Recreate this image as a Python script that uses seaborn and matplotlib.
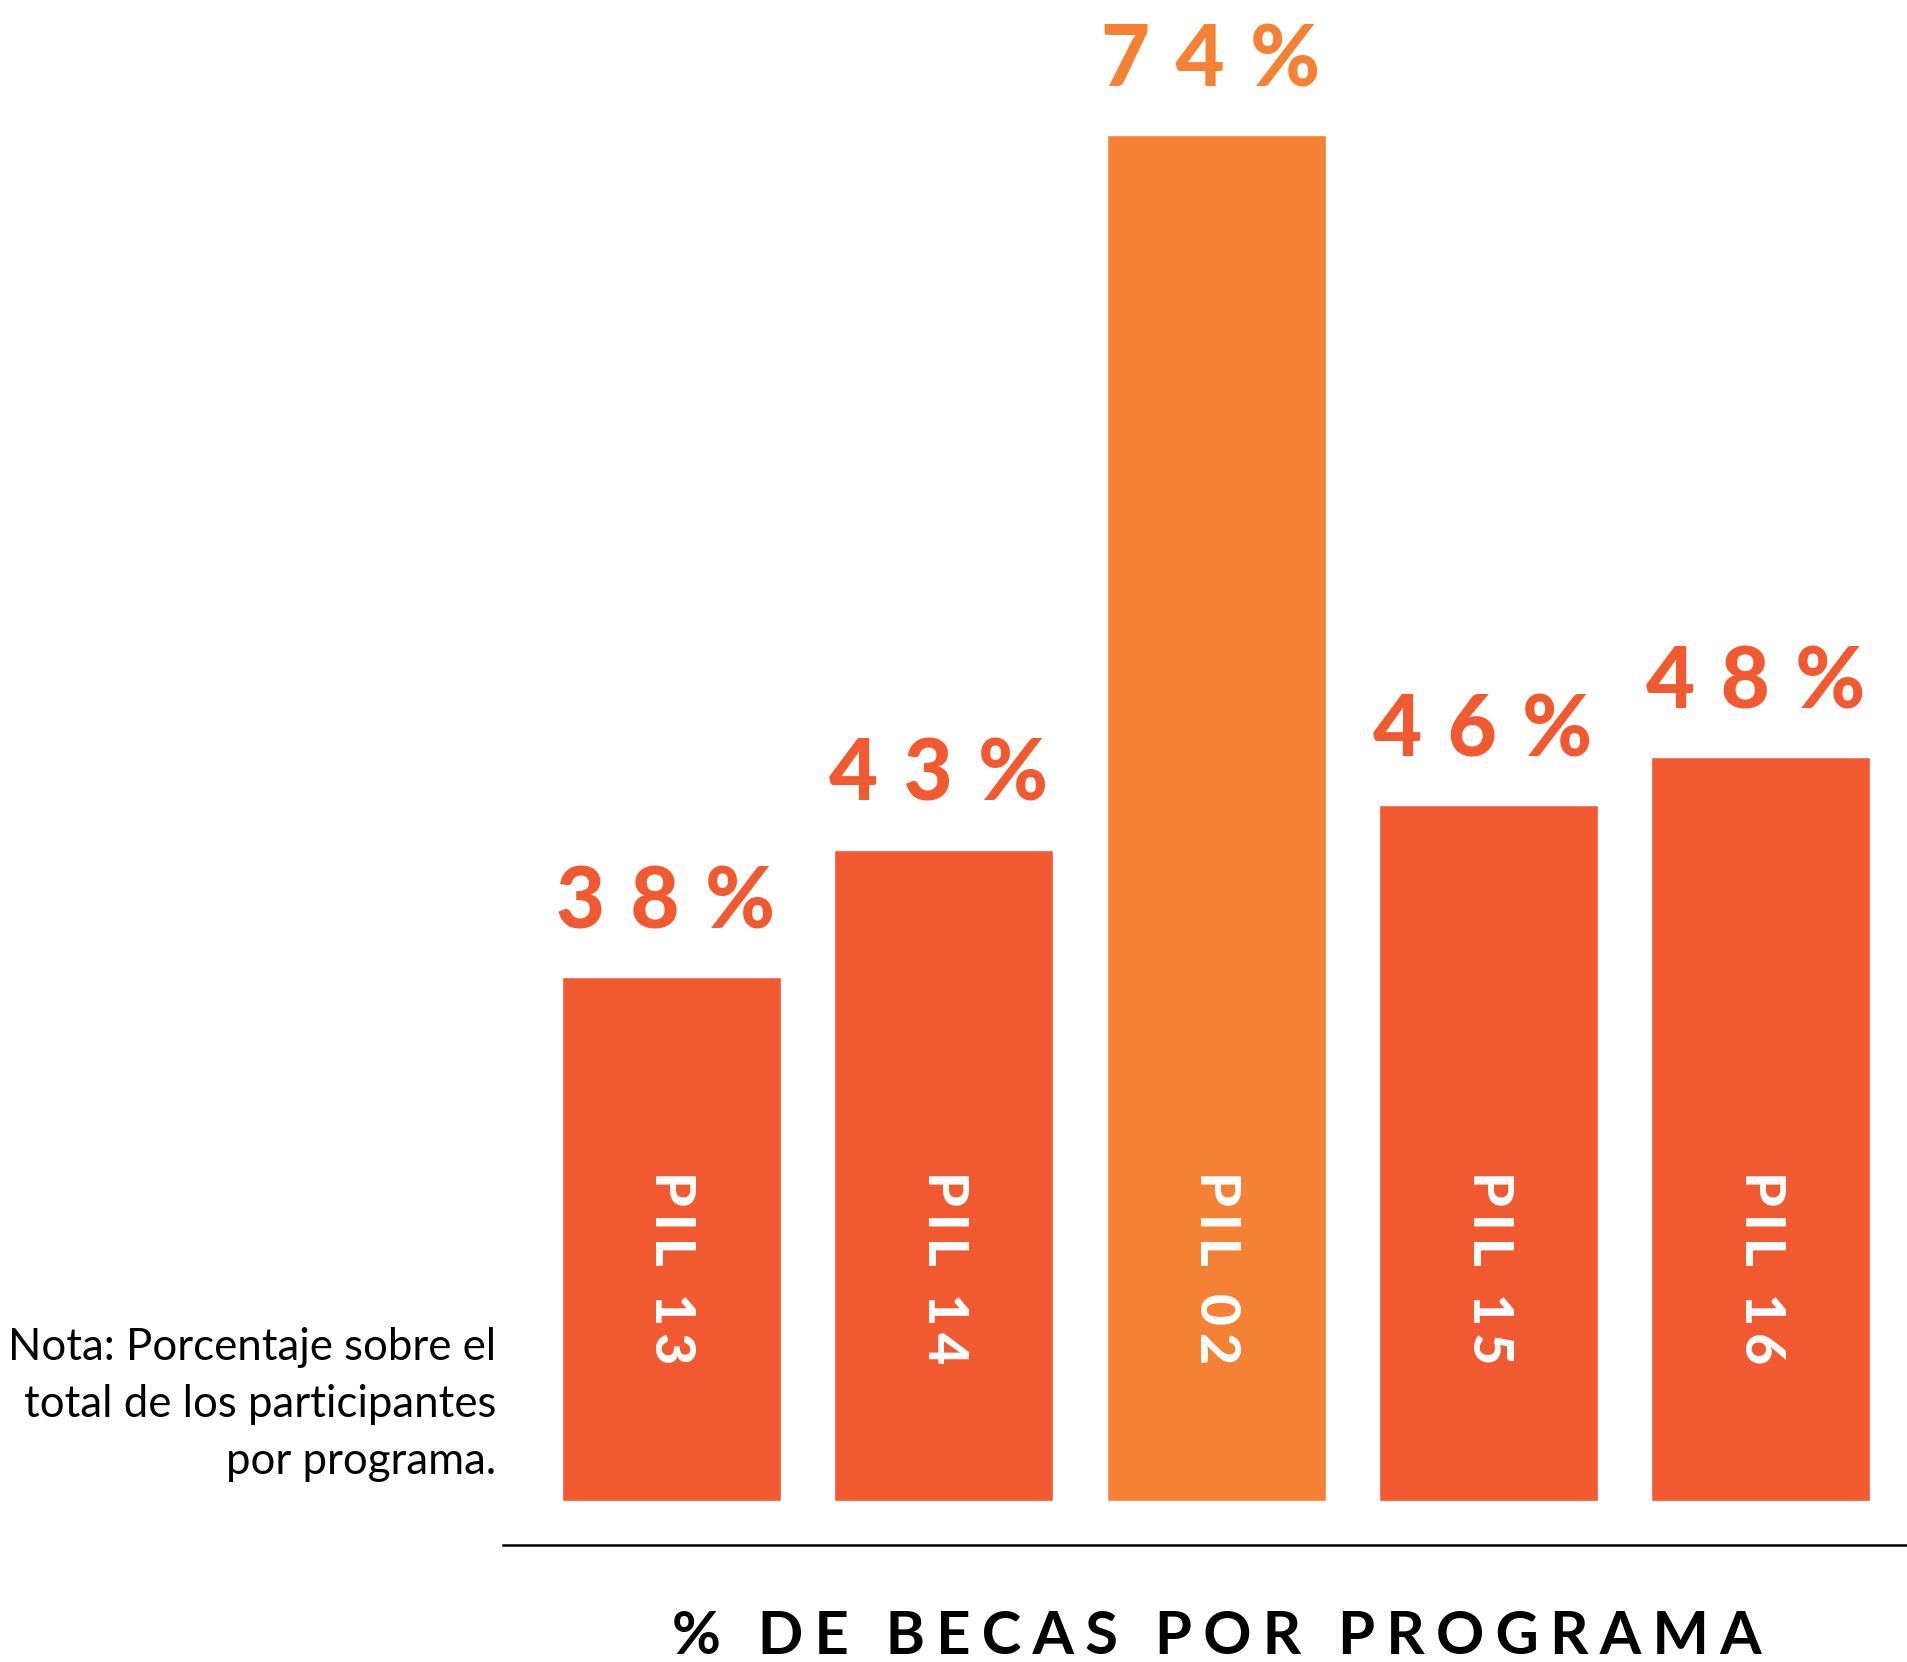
import matplotlib
matplotlib.use("Agg")
import matplotlib.pyplot as plt
import seaborn as sns

# datos
programas = ["PIL 13", "PIL 14", "PIL 02", "PIL 15", "PIL 16"]
porcentajes = [38, 43, 74, 46, 48]
# alto visual de cada barra (la infografia no esta a escala)
alturas = [28.4, 35.3, 74.0, 37.7, 40.3]
colores = ["#F15A31", "#F15A31", "#F58134", "#F15A31", "#F15A31"]

titulo = "% DE BECAS POR PROGRAMA"
nota = ["Nota: Porcentaje sobre el", "total de los participantes", "por programa."]

sns.set_style("white")
FAM = ["Lato", "DejaVu Sans"]
plt.rcParams["font.family"] = FAM


def espaciar(txt, sep="\u2009"):
    return sep.join(txt)


W, H = 1907, 1662
fig = plt.figure(figsize=(W / 100, H / 100), dpi=100)
ax = fig.add_axes([503.5 / W, (H - 1544.6) / H, 1 - 503.5 / W, 1544.6 / H])

sns.barplot(x=programas, y=alturas, hue=programas, palette=colores,
            width=0.804, saturation=1, legend=False, ax=ax)

ax.set_xlim(-0.616, 4.536)
ax.set_ylim(-2.36, 81.33)
for s in ["top", "left", "right"]:
    ax.spines[s].set_visible(False)
ax.spines["bottom"].set_linewidth(1.8)
ax.spines["bottom"].set_color("black")
ax.set_xticks([])
ax.set_yticks([])
ax.set_xlabel("")
ax.set_ylabel("")

for i, (p, h, v, c) in enumerate(zip(programas, alturas, porcentajes, colores)):
    ax.annotate(espaciar(f"{v}%", " \u200a"), (i, h), xytext=(-4, 35),
                textcoords="offset points", ha="center", va="baseline",
                fontsize=61, fontweight=900, color=c)
    ax.text(i, 17.9, espaciar(p), rotation=-90, ha="center", va="top",
            fontsize=40, fontweight=900, color="white")

for k, linea in enumerate(nota):
    fig.text(496 / W, (H - (1360 + 57 * k)) / H, linea, ha="right",
             va="baseline", fontsize=31.5, fontweight="normal", color="black")

fig.text(1217 / W, 8 / H, espaciar(titulo, "\u2009\u200a"), ha="center",
         va="baseline", fontsize=43, fontweight="bold", color="black")

fig.savefig("out.png", dpi=100)
